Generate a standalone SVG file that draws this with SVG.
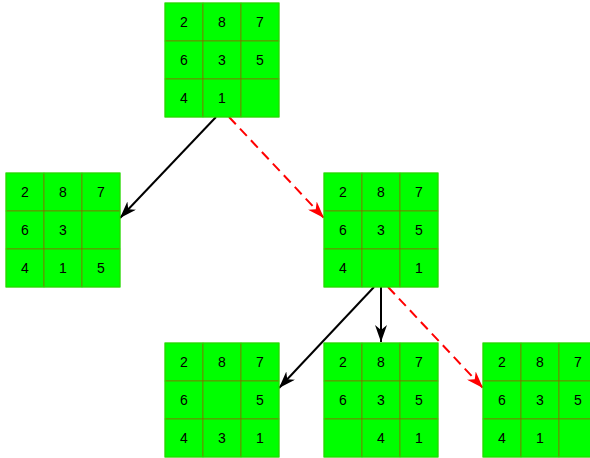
<svg xmlns="http://www.w3.org/2000/svg" width="590" height="458" viewBox="0 0 590 458">
<defs>
<style>
.cell{fill:#00ff00;stroke:#8a6a00;stroke-width:0.7}
.t{font-family:"Liberation Sans",Arial,sans-serif;font-size:14px;fill:#000;text-anchor:middle;dominant-baseline:central}
.e{fill:none;stroke-width:2}
.k{stroke:#000}
.r{stroke:#ff0000;stroke-dasharray:10,6}
</style>
<marker id="ak" markerUnits="userSpaceOnUse" markerWidth="18" markerHeight="12" refX="17" refY="6" orient="auto" viewBox="0 0 18 12">
<path d="M0,0 L17,6 L0,12 L5,6 z" fill="#000"/>
</marker>
<marker id="ar" markerUnits="userSpaceOnUse" markerWidth="18" markerHeight="12" refX="17" refY="6" orient="auto" viewBox="0 0 18 12">
<path d="M0,0 L17,6 L0,12 L5,6 z" fill="#ff0000"/>
</marker>
<g id="grid">
<rect class="cell" x="0" y="0" width="38" height="38"/>
<rect class="cell" x="38" y="0" width="38" height="38"/>
<rect class="cell" x="76" y="0" width="38" height="38"/>
<rect class="cell" x="0" y="38" width="38" height="38"/>
<rect class="cell" x="38" y="38" width="38" height="38"/>
<rect class="cell" x="76" y="38" width="38" height="38"/>
<rect class="cell" x="0" y="76" width="38" height="38"/>
<rect class="cell" x="38" y="76" width="38" height="38"/>
<rect class="cell" x="76" y="76" width="38" height="38"/>
<rect x="0" y="0" width="114" height="114" fill="none" stroke="#00ff00" stroke-width="1"/>
</g>
</defs>
<g id="connectors">
<line class="e k" x1="216" y1="117" x2="120" y2="218" marker-end="url(#ak)"/>
<line class="e r" x1="229" y1="117" x2="324" y2="218" marker-end="url(#ar)"/>
<line class="e k" x1="374" y1="287" x2="279" y2="388" marker-end="url(#ak)"/>
<line class="e k" x1="381" y1="287" x2="381" y2="342" marker-end="url(#ak)"/>
<line class="e r" x1="388" y1="287" x2="483" y2="388" marker-end="url(#ar)"/>
</g>
<g id="n0" transform="translate(165,3)">
<use href="#grid"/>
<text class="t" x="19" y="19">2</text><text class="t" x="57" y="19">8</text><text class="t" x="95" y="19">7</text>
<text class="t" x="19" y="57">6</text><text class="t" x="57" y="57">3</text><text class="t" x="95" y="57">5</text>
<text class="t" x="19" y="95">4</text><text class="t" x="57" y="95">1</text>
</g>
<g id="n1" transform="translate(6,173)">
<use href="#grid"/>
<text class="t" x="19" y="19">2</text><text class="t" x="57" y="19">8</text><text class="t" x="95" y="19">7</text>
<text class="t" x="19" y="57">6</text><text class="t" x="57" y="57">3</text>
<text class="t" x="19" y="95">4</text><text class="t" x="57" y="95">1</text><text class="t" x="95" y="95">5</text>
</g>
<g id="n2" transform="translate(324,173)">
<use href="#grid"/>
<text class="t" x="19" y="19">2</text><text class="t" x="57" y="19">8</text><text class="t" x="95" y="19">7</text>
<text class="t" x="19" y="57">6</text><text class="t" x="57" y="57">3</text><text class="t" x="95" y="57">5</text>
<text class="t" x="19" y="95">4</text><text class="t" x="95" y="95">1</text>
</g>
<g id="n3" transform="translate(165,343)">
<use href="#grid"/>
<text class="t" x="19" y="19">2</text><text class="t" x="57" y="19">8</text><text class="t" x="95" y="19">7</text>
<text class="t" x="19" y="57">6</text><text class="t" x="95" y="57">5</text>
<text class="t" x="19" y="95">4</text><text class="t" x="57" y="95">3</text><text class="t" x="95" y="95">1</text>
</g>
<g id="n4" transform="translate(324,343)">
<use href="#grid"/>
<text class="t" x="19" y="19">2</text><text class="t" x="57" y="19">8</text><text class="t" x="95" y="19">7</text>
<text class="t" x="19" y="57">6</text><text class="t" x="57" y="57">3</text><text class="t" x="95" y="57">5</text>
<text class="t" x="57" y="95">4</text><text class="t" x="95" y="95">1</text>
</g>
<g id="n5" transform="translate(483,343)">
<use href="#grid"/>
<text class="t" x="19" y="19">2</text><text class="t" x="57" y="19">8</text><text class="t" x="95" y="19">7</text>
<text class="t" x="19" y="57">6</text><text class="t" x="57" y="57">3</text><text class="t" x="95" y="57">5</text>
<text class="t" x="19" y="95">4</text><text class="t" x="57" y="95">1</text>
</g>
</svg>
